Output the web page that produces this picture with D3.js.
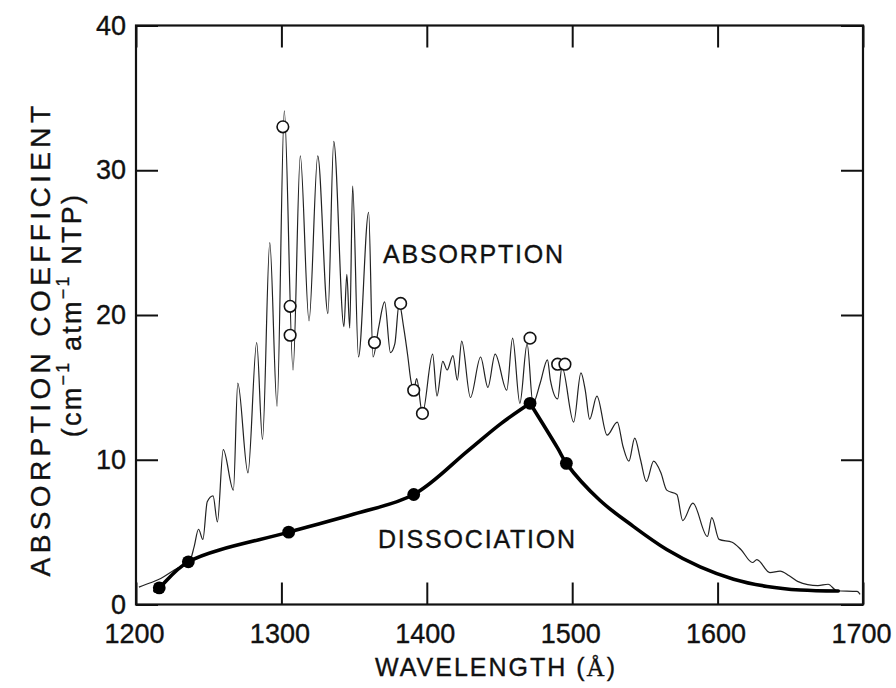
<!DOCTYPE html>
<html>
<head>
<meta charset="utf-8">
<script src="https://cdn.jsdelivr.net/npm/d3@7"></script>
<style>
  html, body { margin: 0; padding: 0; background: #fff; }
  svg { display: block; }
  text { font-family: "Liberation Sans", Arial, Helvetica, sans-serif; fill: #111; stroke: #111; stroke-width: 0.35px; }
</style>
</head>
<body>
<svg id="chart" width="896" height="688"></svg>
<script>
// Absorption coefficient spectrum (thin trace), wavelength in Å
const absWavelength = [1202, 1210, 1217, 1225, 1232, 1237, 1240, 1243, 1246, 1249, 1253, 1256,
  1260, 1267, 1270, 1277, 1283, 1287, 1292, 1297, 1302, 1308, 1313, 1319, 1325, 1332, 1336,
  1343, 1345, 1347, 1349, 1353, 1360, 1363, 1367, 1371, 1375, 1378, 1381, 1384, 1387, 1389,
  1391, 1393, 1397, 1404, 1407, 1411, 1414, 1418, 1421, 1424, 1430, 1437, 1442, 1447, 1455,
  1459, 1464, 1469, 1473, 1478, 1483, 1485, 1490, 1493, 1501, 1506, 1509, 1512, 1517, 1524,
  1531, 1535, 1539, 1543, 1547, 1551, 1556, 1561, 1565, 1572, 1576, 1583, 1593, 1596, 1601,
  1610, 1616, 1624, 1627, 1636, 1643, 1649, 1655, 1669, 1676, 1682, 1696, 1698];
const absValue = [1.2, 1.5, 1.8, 2.3, 2.7, 3.0, 4.0, 5.2, 4.5, 7.1, 7.5, 5.7,
  10.7, 7.9, 15.3, 9.1, 18.1, 11.4, 25.0, 13.7, 34.1, 16.2, 31.0, 19.6, 31.0, 20.1, 32.0,
  19.2, 22.8, 19.1, 28.9, 17.1, 27.1, 17.1, 19.2, 20.9, 17.4, 18.0, 20.8, 19.2, 17.1, 15.5,
  14.8, 15.6, 13.2, 17.3, 14.4, 16.8, 16.2, 17.2, 15.5, 18.2, 14.3, 17.1, 15.0, 17.3, 14.8,
  18.4, 13.9, 18.0, 13.9, 15.3, 16.9, 15.5, 14.2, 16.4, 12.6, 16.0, 14.8, 12.8, 14.4, 11.7,
  12.6, 10.9, 9.9, 11.5, 10.0, 8.5, 9.9, 9.1, 7.9, 7.6, 5.8, 7.0, 4.7, 6.0, 4.5,
  4.3, 3.8, 2.9, 3.1, 2.2, 2.3, 2.0, 1.6, 1.3, 1.4, 0.95, 0.9, 0.7];

// Open circles: absorption data points
const openWavelength = [1301, 1306, 1306, 1364, 1382, 1391, 1397, 1471, 1490, 1495];
const openValue = [33.0, 20.6, 18.6, 18.1, 20.8, 14.8, 13.2, 18.4, 16.6, 16.6];

// Filled circles: dissociation measurements
const dissocWavelength = [1216, 1236, 1305, 1391, 1471, 1496];
const dissocValue = [1.15, 2.95, 5.0, 7.6, 13.9, 9.75];

// Smooth dissociation curve: rising branch up to the peak, then falling branch
const riseWavelength = [1213, 1216, 1236, 1305, 1350, 1391, 1428, 1451, 1471];
const riseValue = [0.95, 1.15, 2.95, 5.0, 6.25, 7.6, 10.6, 12.5, 13.9];
const fallWavelength = [1471, 1490, 1496, 1519, 1542, 1565, 1588, 1611, 1634, 1657, 1683];
const fallValue = [13.9, 10.8, 9.75, 7.2, 5.4, 3.8, 2.6, 1.75, 1.25, 1.0, 0.93];

// Axis ticks
const xTicks = [1200, 1300, 1400, 1500, 1600, 1700];
const yTicks = [0, 10, 20, 30, 40];

const svg = d3.select("#chart");
const L = 136, R = 863, T = 25.5, B = 604.5;
const x = d3.scaleLinear().domain([1200, 1700]).range([L, R]);
const y = d3.scaleLinear().domain([0, 40]).range([B, T]);
const tickLen = 22;

// Bottom axis with labels, ticks pointing inward
const gx = svg.append("g").attr("transform", `translate(0,${B})`)
  .call(d3.axisBottom(x).tickValues(xTicks).tickFormat(d3.format("d"))
    .tickSizeInner(-tickLen).tickSizeOuter(0).tickPadding(19));
gx.selectAll("text").attr("font-size", 27).attr("dx", -2);

// Left axis with labels
const gy = svg.append("g").attr("transform", `translate(${L},0)`)
  .call(d3.axisLeft(y).tickValues(yTicks).tickFormat(d3.format("d"))
    .tickSizeInner(-tickLen).tickSizeOuter(0).tickPadding(10));
gy.selectAll("text").attr("font-size", 27);

// Top and right axes: ticks only
svg.append("g").attr("transform", `translate(0,${T})`)
  .call(d3.axisTop(x).tickValues(xTicks).tickFormat("").tickSizeInner(-tickLen).tickSizeOuter(0));
svg.append("g").attr("transform", `translate(${R},0)`)
  .call(d3.axisRight(y).tickValues(yTicks).tickFormat("").tickSizeInner(-tickLen).tickSizeOuter(0));

svg.selectAll(".domain").remove();
svg.selectAll(".tick line").attr("stroke", "#111").attr("stroke-width", 2);
svg.selectAll(".tick text").attr("fill", "#111").style("font-family", "'Liberation Sans', Arial, sans-serif");

// Plot frame
svg.append("rect").attr("x", L).attr("y", T).attr("width", R - L).attr("height", B - T)
  .attr("fill", "none").attr("stroke", "#111").attr("stroke-width", 2.2);

// Absorption trace
const absData = absWavelength.map((w, i) => [w, absValue[i]]);
svg.append("path").datum(absData)
  .attr("fill", "none").attr("stroke", "#222").attr("stroke-width", 1.2)
  .attr("d", d3.line().x(d => x(d[0])).y(d => y(d[1])).curve(d3.curveMonotoneX));

// Dissociation curve (two smooth branches meeting at the peak)
const dissocLine = d3.line().x(d => x(d[0])).y(d => y(d[1])).curve(d3.curveCatmullRom.alpha(0.5));
[[riseWavelength, riseValue], [fallWavelength, fallValue]].forEach(([ws, vs]) => {
  svg.append("path").datum(ws.map((w, i) => [w, vs[i]]))
    .attr("fill", "none").attr("stroke", "#000").attr("stroke-width", 3.6)
    .attr("stroke-linecap", "round").attr("stroke-linejoin", "round")
    .attr("d", dissocLine);
});

// Open circles
svg.append("g").selectAll("circle")
  .data(openWavelength.map((w, i) => [w, openValue[i]]))
  .join("circle")
  .attr("cx", d => x(d[0])).attr("cy", d => y(d[1])).attr("r", 5.8)
  .attr("fill", "#fff").attr("stroke", "#111").attr("stroke-width", 1.6);

// Filled circles
svg.append("g").selectAll("circle")
  .data(dissocWavelength.map((w, i) => [w, dissocValue[i]]))
  .join("circle")
  .attr("cx", d => x(d[0])).attr("cy", d => y(d[1])).attr("r", 6.4)
  .attr("fill", "#000");

// In-plot labels
svg.append("text").attr("x", 383).attr("y", 263).attr("font-size", 25)
  .attr("letter-spacing", 1.8).text("ABSORPTION");
svg.append("text").attr("x", 378).attr("y", 548).attr("font-size", 25)
  .attr("letter-spacing", 1.8).text("DISSOCIATION");

// X axis title
const xt = svg.append("text").attr("x", 496).attr("y", 676).attr("font-size", 25)
  .attr("text-anchor", "middle").attr("letter-spacing", 2);
xt.append("tspan").text("WAVELENGTH  (");
xt.append("tspan").style("font-family", "'Liberation Serif', 'DejaVu Serif', serif").text("Å");
xt.append("tspan").text(")");

// Y axis title, two lines
svg.append("text").attr("transform", "translate(50,339) rotate(-90)")
  .attr("text-anchor", "middle").attr("font-size", 28).attr("letter-spacing", 4.4)
  .text("ABSORPTION COEFFICIENT");
const yt2 = svg.append("text").attr("transform", "translate(81,315) rotate(-90)")
  .attr("text-anchor", "middle").attr("font-size", 27).attr("letter-spacing", 2.2);
yt2.append("tspan").text("(cm");
yt2.append("tspan").attr("dy", -12).attr("font-size", 18).text("−1");
yt2.append("tspan").attr("dy", 12).text("  atm");
yt2.append("tspan").attr("dy", -12).attr("font-size", 18).text("−1");
yt2.append("tspan").attr("dy", 12).text("  NTP)");
</script>
</body>
</html>
